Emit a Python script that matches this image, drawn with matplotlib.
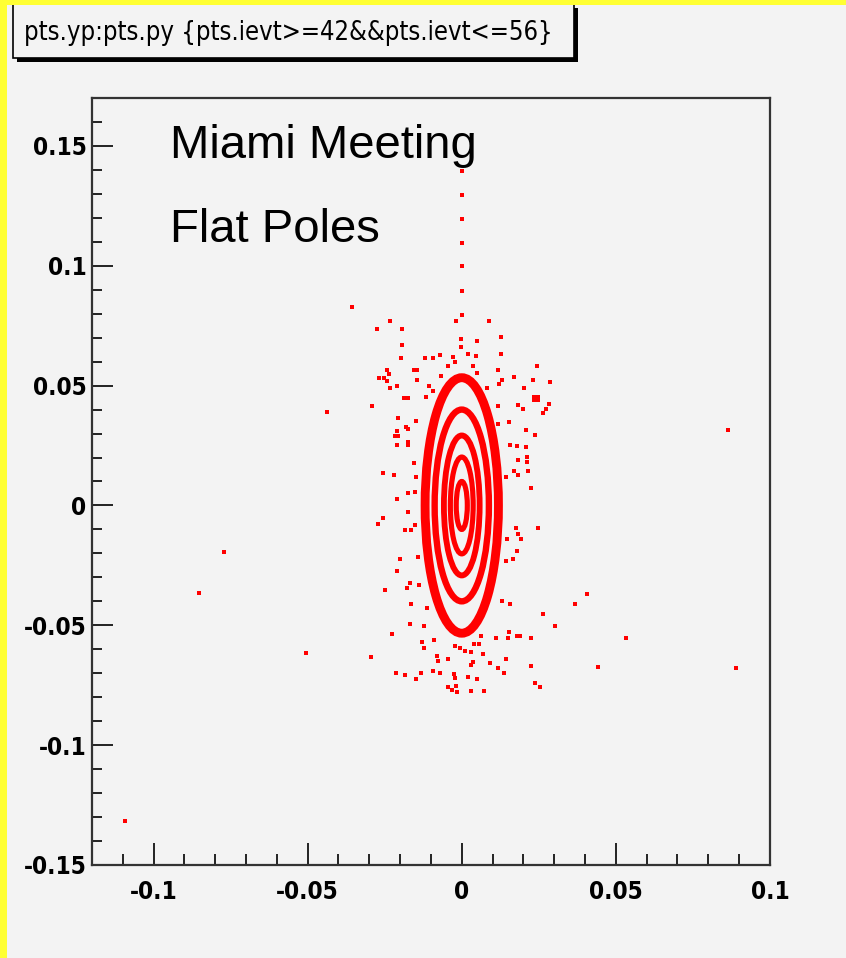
import matplotlib
matplotlib.use("Agg")
import matplotlib.pyplot as plt
from matplotlib.patches import Ellipse, Rectangle

# Tracking turns: concentric phase-space rings (semi-axes in x and y)
ring_ax = [0.0119, 0.0088, 0.0058, 0.0037, 0.0018]
ring_by = [0.0533, 0.0400, 0.0292, 0.0202, 0.0100]
ring_lw = [6.4, 4.6, 4.2, 3.7, 3.7]

# Stray points outside the rings
px = [-0.1094, -0.0854, -0.0773, -0.0506, -0.0438, -0.0355, 0.0864, 0.0890,
      0.0532, 0.0442, 0.0406, 0.0366,
      0.0002, 0.0002, 0.0002, 0.0002, 0.0002, 0.0002, 0.0002,
      -0.0233, -0.0276, -0.0193, -0.0193, -0.0197, -0.0118, -0.0094, -0.0070,
      -0.0029, -0.0022, -0.0046, -0.0244, -0.0236, -0.0269, -0.0252, -0.0244,
      -0.0154, -0.0144, -0.0144, -0.0209, -0.0233, -0.0066, -0.0106, -0.0092,
      -0.0117, -0.0189, -0.0173, -0.0291, -0.0206, -0.0149, -0.0182, -0.0173,
      -0.0209, -0.0217, -0.0207, -0.0209, -0.0173, -0.0173, -0.0155, -0.0256,
      -0.0220, -0.0149, -0.0176, -0.0153, -0.0209, -0.0019,
      0.0089, 0.0127, 0.0049, -0.0001, -0.0003, 0.0020, 0.0045, 0.0127,
      0.0035, 0.0051, 0.0116, 0.0132, 0.0121, 0.0168, 0.0244, 0.0231,
      0.0287, 0.0202, 0.0081, 0.0235, 0.0246, 0.0235, 0.0246, 0.0184,
      0.0200, 0.0283, 0.0273, 0.0265, 0.0116, 0.0116, 0.0152, 0.0210,
      0.0238, 0.0156, 0.0179, 0.0208, 0.0211, 0.0211, 0.0183, 0.0170,
      0.0181, 0.0215, 0.0224, 0.0143,
      -0.0257, -0.0272, -0.0176, -0.0185, -0.0166, -0.0153, 0.0246, 0.0175,
      0.0183, 0.0192, 0.0148, 0.0179, 0.0165, 0.0143, -0.0200, -0.0209,
      -0.0142, -0.0168, -0.0179, -0.0139, -0.0249, -0.0166, -0.0114, 0.0132,
      0.0156, 0.0262, 0.0302, -0.0169, -0.0122, -0.0228, -0.0090, -0.0128,
      -0.0122, 0.0064, 0.0111, 0.0154, 0.0149, 0.0179, 0.0188, 0.0224,
      -0.0022, -0.0006, 0.0010, 0.0040, 0.0056, 0.0029, -0.0295, -0.0081,
      -0.0077, -0.0046, 0.0070, 0.0144, 0.0092, 0.0029, 0.0038, 0.0226,
      0.0116, 0.0137, -0.0212, -0.0184, -0.0133, -0.0149, -0.0093, -0.0070,
      -0.0025, -0.0022, 0.0020, 0.0049, -0.0044, -0.0033, -0.0019, -0.0014,
      0.0029, 0.0072, 0.0238, 0.0254]
py = [-0.1317, -0.0367, -0.0196, -0.0614, 0.0388, 0.0829, 0.0313, -0.0679,
      -0.0554, -0.0674, -0.0368, -0.0410,
      0.1396, 0.1296, 0.1195, 0.1093, 0.0999, 0.0896, 0.0796,
      0.0768, 0.0735, 0.0735, 0.0668, 0.0617, 0.0617, 0.0617, 0.0628,
      0.0621, 0.0597, 0.0583, 0.0567, 0.0549, 0.0532, 0.0532, 0.0521,
      0.0567, 0.0567, 0.0524, 0.0499, 0.0490, 0.0542, 0.0499, 0.0476,
      0.0454, 0.0449, 0.0449, 0.0413, 0.0363, 0.0354, 0.0329, 0.0320,
      0.0310, 0.0288, 0.0288, 0.0251, 0.0263, 0.0251, 0.0176, 0.0135,
      0.0125, 0.0118, 0.0051, 0.0055, 0.0028, 0.0768,
      0.0768, 0.0701, 0.0685, 0.0695, 0.0660, 0.0632, 0.0625, 0.0632,
      0.0583, 0.0551, 0.0565, 0.0524, 0.0507, 0.0538, 0.0583, 0.0524,
      0.0515, 0.0490, 0.0490, 0.0451, 0.0451, 0.0438, 0.0438, 0.0421,
      0.0403, 0.0424, 0.0403, 0.0385, 0.0413, 0.0338, 0.0347, 0.0313,
      0.0295, 0.0254, 0.0246, 0.0243, 0.0201, 0.0180, 0.0190, 0.0143,
      0.0125, 0.0142, 0.0074, 0.0118,
      -0.0051, -0.0079, -0.0028, -0.0104, -0.0104, -0.0083, -0.0095, -0.0095,
      -0.0118, -0.0139, -0.0139, -0.0190, -0.0222, -0.0232, -0.0222, -0.0274,
      -0.0215, -0.0324, -0.0343, -0.0333, -0.0351, -0.0410, -0.0426, -0.0400,
      -0.0410, -0.0451, -0.0503, -0.0496, -0.0504, -0.0538, -0.0563, -0.0570,
      -0.0593, -0.0546, -0.0554, -0.0528, -0.0554, -0.0546, -0.0546, -0.0554,
      -0.0586, -0.0593, -0.0607, -0.0579, -0.0579, -0.0611, -0.0632, -0.0629,
      -0.0649, -0.0639, -0.0621, -0.0639, -0.0657, -0.0664, -0.0655, -0.0671,
      -0.0680, -0.0697, -0.0697, -0.0707, -0.0697, -0.0725, -0.0690, -0.0697,
      -0.0704, -0.0718, -0.0715, -0.0725, -0.0757, -0.0768, -0.0754, -0.0778,
      -0.0775, -0.0775, -0.0740, -0.0757]

x_ticks = [-0.1, -0.05, 0, 0.05, 0.1]
x_labels = ["-0.1", "-0.05", "0", "0.05", "0.1"]
y_ticks = [-0.15, -0.1, -0.05, 0, 0.05, 0.1, 0.15]
y_labels = ["-0.15", "-0.1", "-0.05", "0", "0.05", "0.1", "0.15"]
x_minor = [i / 100 for i in range(-12, 11)]
y_minor = [i / 100 for i in range(-15, 17)]

title = "pts.yp:pts.py {pts.ievt>=42&&pts.ievt<=56}"
notes = ["Miami Meeting", "Flat Poles"]

bg = "#f3f3f3"
red = "#ff0000"

fig = plt.figure(figsize=(8.46, 9.58), dpi=100, facecolor=bg)
ax = fig.add_axes([0.1087, 0.0971, 0.8014, 0.8006], facecolor=bg)

for a, b, lw in zip(ring_ax, ring_by, ring_lw):
    ax.add_patch(Ellipse((0, 0), 2 * a, 2 * b, fill=False, edgecolor=red, lw=lw))

ax.plot(px, py, "s", color=red, ms=3.3, mew=0)

ax.set_xlim(-0.12, 0.1)
ax.set_ylim(-0.15, 0.17)
ax.set_xticks(x_ticks)
ax.set_xticklabels(x_labels)
ax.set_yticks(y_ticks)
ax.set_yticklabels(y_labels)
ax.set_xticks(x_minor, minor=True)
ax.set_yticks(y_minor, minor=True)

ax.tick_params(axis="x", which="major", direction="in", length=16, width=1.2, pad=11)
ax.tick_params(axis="x", which="minor", direction="in", length=8, width=1.2)
ax.tick_params(axis="y", which="major", direction="in", length=15, width=1.2, pad=4)
ax.tick_params(axis="y", which="minor", direction="in", length=7.5, width=1.2)
for lab in ax.get_xticklabels() + ax.get_yticklabels():
    lab.set_family("DejaVu Sans")
    lab.set_fontstretch("condensed")
    lab.set_fontweight("bold")
    lab.set_fontsize(17.5)

for side in ["left", "bottom", "top", "right"]:
    ax.spines[side].set_color("#333333")
    ax.spines[side].set_linewidth(1.6)

# ROOT-style title box with drop shadow
fig.patches.append(Rectangle((17 / 846, 1 - 62 / 958), 561 / 846, 54 / 958,
                             transform=fig.transFigure, facecolor="black",
                             edgecolor="none", zorder=1))
fig.patches.append(Rectangle((13 / 846, 1 - 58 / 958), 561 / 846, 54 / 958,
                             transform=fig.transFigure, facecolor=bg,
                             edgecolor="black", lw=1.2, zorder=2))
fig.text(288 / 846, 1 - 33 / 958, title, ha="center", va="center",
         family="DejaVu Sans", fontstretch="condensed", fontsize=18.4, zorder=3)

fig.text(170 / 846, 1 - 158 / 958, notes[0], ha="left", va="baseline",
         family=["Liberation Sans", "DejaVu Sans"], fontsize=34)
fig.text(170 / 846, 1 - 242 / 958, notes[1], ha="left", va="baseline",
         family=["Liberation Sans", "DejaVu Sans"], fontsize=34)

# yellow canvas border on the left and top
fig.patches.append(Rectangle((0, 0), 7 / 846, 1, transform=fig.transFigure,
                             facecolor="#ffff33", edgecolor="none", zorder=4))
fig.patches.append(Rectangle((0, 1 - 5 / 958), 1, 5 / 958, transform=fig.transFigure,
                             facecolor="#ffff33", edgecolor="none", zorder=4))

fig.savefig("out.png", dpi=100, facecolor=bg)
